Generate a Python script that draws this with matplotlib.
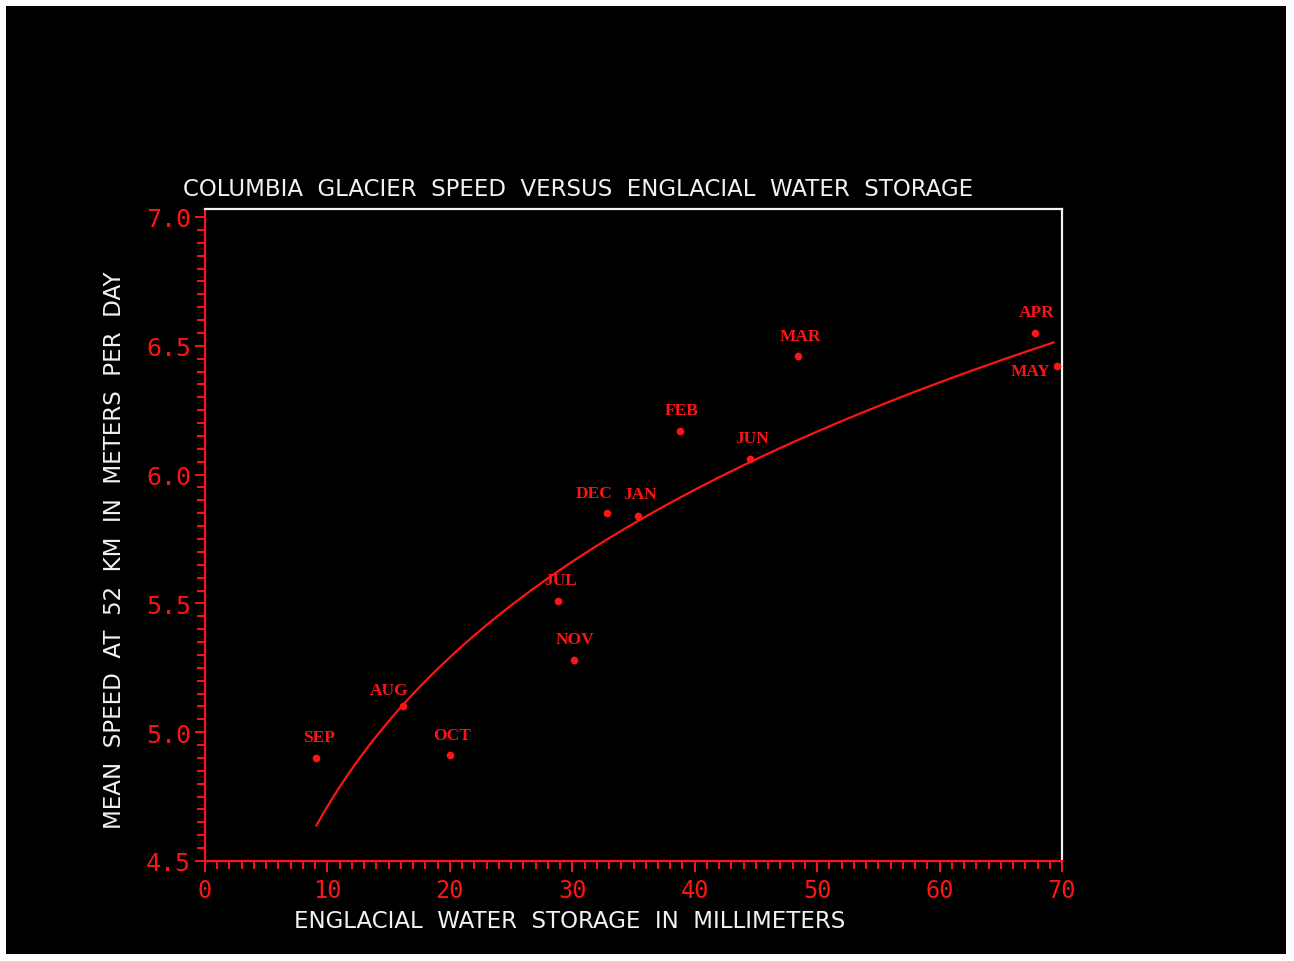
import numpy as np
import matplotlib
matplotlib.use("Agg")
import matplotlib.pyplot as plt
from matplotlib.patches import Rectangle
from matplotlib.ticker import MultipleLocator, FixedLocator

# ---- data ----
months = ["SEP", "AUG", "OCT", "JUL", "NOV", "DEC", "JAN", "FEB", "JUN", "MAR", "APR", "MAY"]
storage_mm = [9.1, 16.2, 20.0, 28.8, 30.1, 32.8, 35.4, 38.8, 44.5, 48.4, 67.8, 69.6]
speed_m_per_day = [4.90, 5.10, 4.91, 5.51, 5.28, 5.85, 5.84, 6.17, 6.06, 6.46, 6.55, 6.42]

x_ticks = [0, 10, 20, 30, 40, 50, 60, 70]
y_ticks = [4.5, 5.0, 5.5, 6.0, 6.5, 7.0]

title = "COLUMBIA  GLACIER  SPEED  VERSUS  ENGLACIAL  WATER  STORAGE"
xlabel = "ENGLACIAL  WATER  STORAGE  IN  MILLIMETERS"
ylabel = "MEAN  SPEED  AT  52  KM  IN  METERS  PER  DAY"

# label offsets (pixels) relative to each point -- styling only
label_offsets = {
    "SEP": (3, 21), "AUG": (-14, 16), "OCT": (2, 20), "JUL": (3, 21),
    "NOV": (2, 21), "DEC": (-12, 20), "JAN": (2, 22), "FEB": (2, 21),
    "JUN": (2, 21), "MAR": (3, 20), "APR": (2, 21), "MAY": (-27, -5),
}

RED = "#ff1414"
WHITE = "#f2f2f2"

W, H = 1294, 962
fig = plt.figure(figsize=(W / 100, H / 100), dpi=100, facecolor="white")
fig.patches.append(Rectangle((6 / W, 7 / H), 1280 / W, 948 / H, transform=fig.transFigure,
                             facecolor="black", edgecolor="none", zorder=-10))

ax = fig.add_axes([205 / W, (H - 862) / H, 857 / W, 652 / H])
ax.set_facecolor("black")
ax.set_xlim(0, 70)
ax.set_ylim(4.5, 7.031)

x = np.array(storage_mm)
y = np.array(speed_m_per_day)

# power-law least-squares fit to the data
b, loga = np.polyfit(np.log(x), np.log(y), 1)
xf = np.linspace(x.min(), 69.3, 200)
yf = np.exp(loga) * xf ** b
ax.plot(xf, yf, color=RED, lw=1.6, zorder=3)

ax.plot(x, y, "o", color=RED, ms=4.5, mec=RED, zorder=4)
for m, xi, yi in zip(months, x, y):
    dx, dy = label_offsets[m]
    ax.annotate(m, (xi, yi), xytext=(dx, dy), textcoords="offset pixels",
                ha="center", va="center", color=RED, fontsize=12.5,
                family="Liberation Serif", fontweight="bold")

for s in ["left", "bottom"]:
    ax.spines[s].set_color(RED)
    ax.spines[s].set_linewidth(1.6)
for s in ["top", "right"]:
    ax.spines[s].set_color(WHITE)
    ax.spines[s].set_linewidth(1.6)

ax.xaxis.set_major_locator(FixedLocator(x_ticks))
ax.xaxis.set_minor_locator(MultipleLocator(1))
ax.yaxis.set_major_locator(FixedLocator(y_ticks))
ax.yaxis.set_minor_locator(MultipleLocator(0.05))
ax.set_xticklabels([str(t) for t in x_ticks])
ax.set_yticklabels([f"{t:.1f}" for t in y_ticks])

ax.tick_params(axis="both", which="both", direction="out", color=RED, labelcolor=RED)
ax.tick_params(axis="x", which="major", length=8, width=1.4, pad=4, labelsize=17)
ax.tick_params(axis="x", which="minor", length=6, width=1.4)
ax.tick_params(axis="y", which="major", length=7, width=1.4, pad=3, labelsize=18)
ax.tick_params(axis="y", which="minor", length=6, width=1.4)
for lab in ax.get_xticklabels() + ax.get_yticklabels():
    lab.set_family("DejaVu Sans Mono")

fig.text(183 / W, (H - 190) / H, title, color=WHITE, fontsize=16.5,
         family="DejaVu Sans", ha="left", va="center")
fig.text(570 / W, (H - 922) / H, xlabel, color=WHITE, fontsize=16.5,
         family="DejaVu Sans", ha="center", va="center")
fig.text(115 / W, (H - 550) / H, ylabel, color=WHITE, fontsize=16.6,
         family="DejaVu Sans", ha="center", va="center", rotation=90)

fig.savefig("out.png", dpi=100, facecolor="white")
